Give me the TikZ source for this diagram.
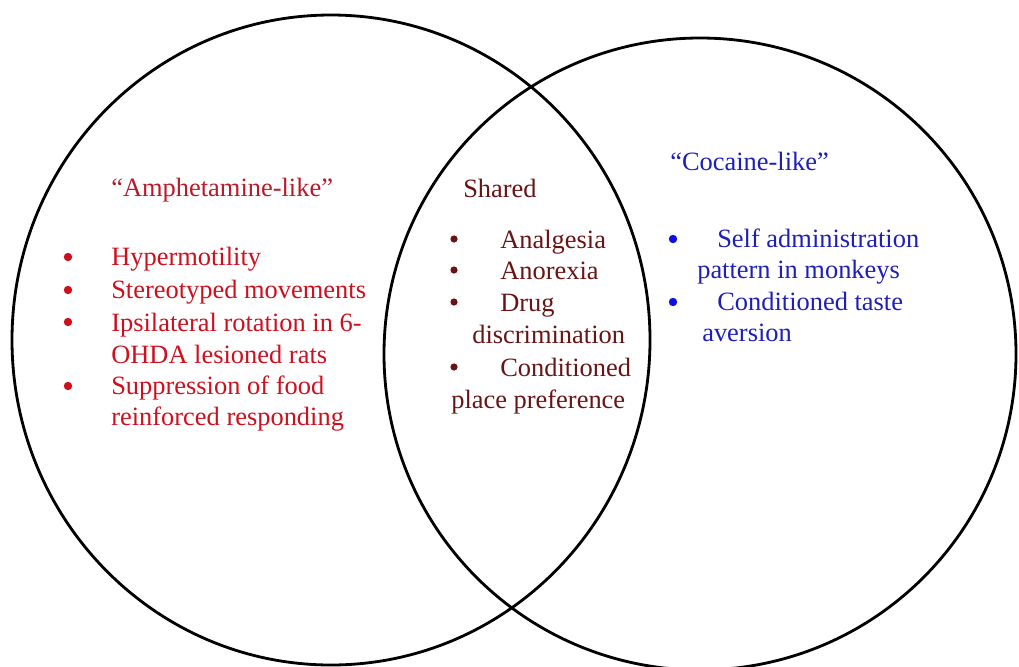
\documentclass[tikz,border=0pt]{standalone}
\usepackage{fontspec}
\setmainfont{Liberation Serif}

\definecolor{amphTitle}{RGB}{185,25,40}
\definecolor{amphRed}{RGB}{205,15,30}
\definecolor{sharedRed}{RGB}{105,20,20}
\definecolor{cocBlue}{RGB}{30,30,185}
\definecolor{dotBlue}{RGB}{15,15,225}

\tikzset{
    ring/.style={line width=2pt},
    txt/.style={anchor=base west, inner sep=0pt, font=\fontsize{18.8}{23}\selectfont},
    dot/.style={circle, fill=#1, inner sep=0pt, minimum size=0.21cm}
}

\begin{document}
\begin{tikzpicture}[x=0.025cm,y=-0.025cm]
    \useasboundingbox (0,0) rectangle (1019,666);

    %Kreise
    \draw[ring] (331,340) ellipse [x radius=319, y radius=325];
    \draw[ring] (700,354) circle [radius=316];

    %Amphetamine-like
    \begin{scope}[local bounding box=AMPH, amphRed]
        \node[txt, text=amphTitle] (amphHead) at (111,196) {``Amphetamine-like''};
        \node[dot=amphRed] (amphDotA) at (68,257) {};
        \node[dot=amphRed] (amphDotB) at (68,290) {};
        \node[dot=amphRed] (amphDotC) at (68,322) {};
        \node[dot=amphRed] (amphDotD) at (68,386) {};
        \node[txt] (amphA) at (111,265) {Hypermotility};
        \node[txt] (amphB) at (111,298) {Stereotyped movements};
        \node[txt] (amphC) at (111,331) {Ipsilateral rotation in 6-};
        \node[txt] (amphC2) at (111,363) {OHDA lesioned rats};
        \node[txt] (amphD) at (111,394) {Suppression of food};
        \node[txt] (amphD2) at (111,425) {reinforced responding};
    \end{scope}

    %Shared
    \begin{scope}[local bounding box=SHARED, sharedRed]
        \node[txt] (sharedHead) at (463,197) {Shared};
        \node[dot=sharedRed, minimum size=0.18cm] (sharedDotA) at (454,239) {};
        \node[dot=sharedRed, minimum size=0.18cm] (sharedDotB) at (454,270) {};
        \node[dot=sharedRed, minimum size=0.18cm] (sharedDotC) at (454,302) {};
        \node[dot=sharedRed, minimum size=0.18cm] (sharedDotD) at (454,367) {};
        \node[txt] (sharedA) at (500,248) {Analgesia};
        \node[txt] (sharedB) at (500,279) {Anorexia};
        \node[txt] (sharedC) at (500,311) {Drug};
        \node[txt] (sharedC2) at (472,343) {discrimination};
        \node[txt] (sharedD) at (500,376) {Conditioned};
        \node[txt] (sharedD2) at (451,408) {place preference};
    \end{scope}

    %Cocaine-like
    \begin{scope}[local bounding box=COC, cocBlue]
        \node[txt] (cocHead) at (670,170) {``Cocaine-like''};
        \node[dot=dotBlue] (cocDotA) at (673,239) {};
        \node[dot=dotBlue] (cocDotB) at (673,302) {};
        \node[txt] (cocA) at (717,247) {Self administration};
        \node[txt] (cocA2) at (697,278) {pattern in monkeys};
        \node[txt] (cocB) at (717,310) {Conditioned taste};
        \node[txt] (cocB2) at (702,341) {aversion};
    \end{scope}
\end{tikzpicture}
\end{document}
